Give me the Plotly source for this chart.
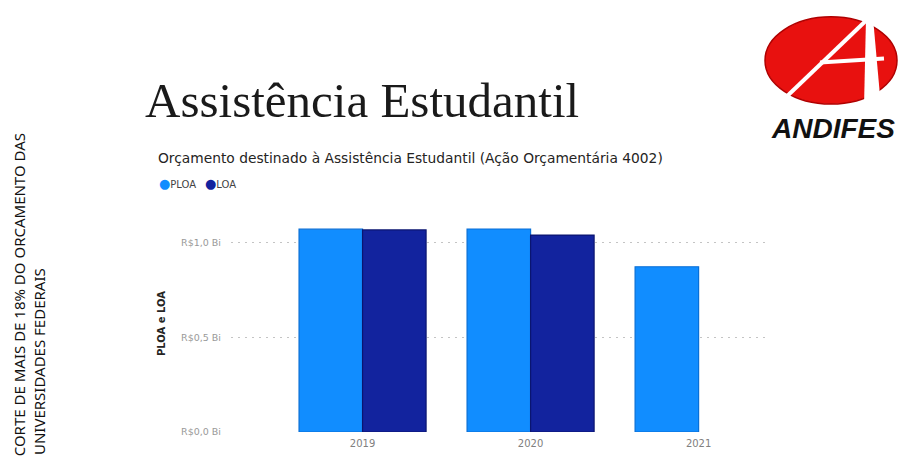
import plotly.graph_objects as go

# ---------------- data ----------------
years = ["2019", "2020", "2021"]
series_names = ["PLOA", "LOA"]
ploa = [1.070, 1.071, 0.872]          # R$ bilhões
loa = [1.066, 1.039, None]
y_tick_vals = [0.0, 0.5, 1.0]
y_tick_text = ["R$0,0 Bi", "R$0,5 Bi", "R$1,0 Bi"]

title_text = "Assistência Estudantil"
subtitle_text = "Orçamento destinado à Assistência Estudantil (Ação Orçamentária 4002)"
y_title = "PLOA e LOA"
side_lines = ["CORTE DE MAIS DE 18% DO ORCAMENTO DAS", "UNIVERSIDADES FEDERAIS"]
logo_text = "ANDIFES"

colors = ["#118DFF", "#12239E"]
borders = ["#0A6FD6", "#0A1570"]

# ---------------- layout geometry ----------------
W, H = 901, 461
L, R, T, B = 231, 133, 215, 27
PW, PH = W - L - R, H - T - B


def fx(px):
    return (px - L) / PW


def fy(py):
    return (H - B - py) / PH


fig = go.Figure()
for name, vals, c, bc in zip(series_names, [ploa, loa], colors, borders):
    fig.add_trace(go.Bar(
        x=list(range(len(years))), y=vals, name=name,
        marker=dict(color=c, line=dict(color=bc, width=1.2)),
        showlegend=False,
    ))

fig.update_layout(
    width=W, height=H,
    margin=dict(l=L, r=R, t=T, b=B, pad=0),
    paper_bgcolor="white", plot_bgcolor="white",
    barmode="group", bargap=0.244, bargroupgap=0,
    font=dict(family="Noto Sans", color="#333"),
)
fig.update_xaxes(
    range=[-0.783, 2.413], tickvals=list(range(len(years))), ticktext=years,
    showgrid=False, zeroline=False, showline=False, ticks="",
    ticklabelstandoff=4,
    tickfont=dict(size=10, color="#808080", family="DejaVu Sans"),
)
fig.update_yaxes(
    range=[0, 1.145], tickvals=y_tick_vals, ticktext=y_tick_text,
    showgrid=True, gridcolor="#C4C4C4", griddash="2px,5px", gridwidth=1.3,
    zeroline=False, showline=False, ticks="", ticklabelstandoff=9,
    tickfont=dict(size=9.5, color="#999999", family="DejaVu Sans"),
    title=dict(text=y_title, standoff=13,
               font=dict(size=10, color="#252423", family="DejaVu Sans", weight="bold")),
)

# Title
fig.add_annotation(xref="paper", yref="paper", x=fx(143), y=fy(99),
                   xanchor="left", yanchor="middle", showarrow=False,
                   text=title_text,
                   font=dict(family="Liberation Serif", size=49, color="#1A1A1A"))
# Subtitle
fig.add_annotation(xref="paper", yref="paper", x=fx(156), y=fy(157),
                   xanchor="left", yanchor="middle", showarrow=False,
                   text=subtitle_text,
                   font=dict(family="DejaVu Sans", size=13.8, color="#252423"))
# Legend (circle markers + names)
leg_x = [157, 203]
for name, c, lx in zip(series_names, colors, leg_x):
    fig.add_annotation(xref="paper", yref="paper", x=fx(lx), y=fy(183),
                       xanchor="left", yanchor="middle", showarrow=False,
                       text=f'<span style="color:{c};font-size:13px">●</span>{name}',
                       font=dict(family="DejaVu Sans", size=10, color="#444"))

# Side vertical text
for line, cx, top in zip(side_lines, [19, 39], [130, 267]):
    fig.add_annotation(xref="paper", yref="paper", x=fx(cx), y=fy(top),
                       xanchor="center", yanchor="top", showarrow=False,
                       textangle=-90, text=line,
                       font=dict(family="Noto Sans", size=15, color="#111"))

# ANDIFES logo
fig.add_shape(type="circle", xref="paper", yref="paper",
              x0=fx(765), x1=fx(897), y0=fy(103), y1=fy(15),
              fillcolor="#E8110F", line=dict(color="#B00000", width=1.5), layer="above")
white = "white"
fig.add_shape(type="line", xref="paper", yref="paper",
              x0=fx(782), y0=fy(100), x1=fx(869), y1=fy(16),
              line=dict(color=white, width=4), layer="above")
fig.add_shape(type="line", xref="paper", yref="paper",
              x0=fx(820), y0=fy(61), x1=fx(884), y1=fy(57),
              line=dict(color=white, width=4), layer="above")
fig.add_shape(type="path", xref="paper", yref="paper",
              path=(f"M {fx(866)},{fy(16)} L {fx(873)},{fy(16)} L {fx(881)},{fy(106)} "
                    f"L {fx(864)},{fy(106)} Z"),
              fillcolor=white, line=dict(color=white, width=0), layer="above")
fig.add_annotation(xref="paper", yref="paper", x=fx(833), y=fy(128),
                   xanchor="center", yanchor="middle", showarrow=False,
                   text=f"<b><i>{logo_text}</i></b>",
                   font=dict(family="Liberation Sans", size=28, color="#111"))

fig.write_html("out.html")
